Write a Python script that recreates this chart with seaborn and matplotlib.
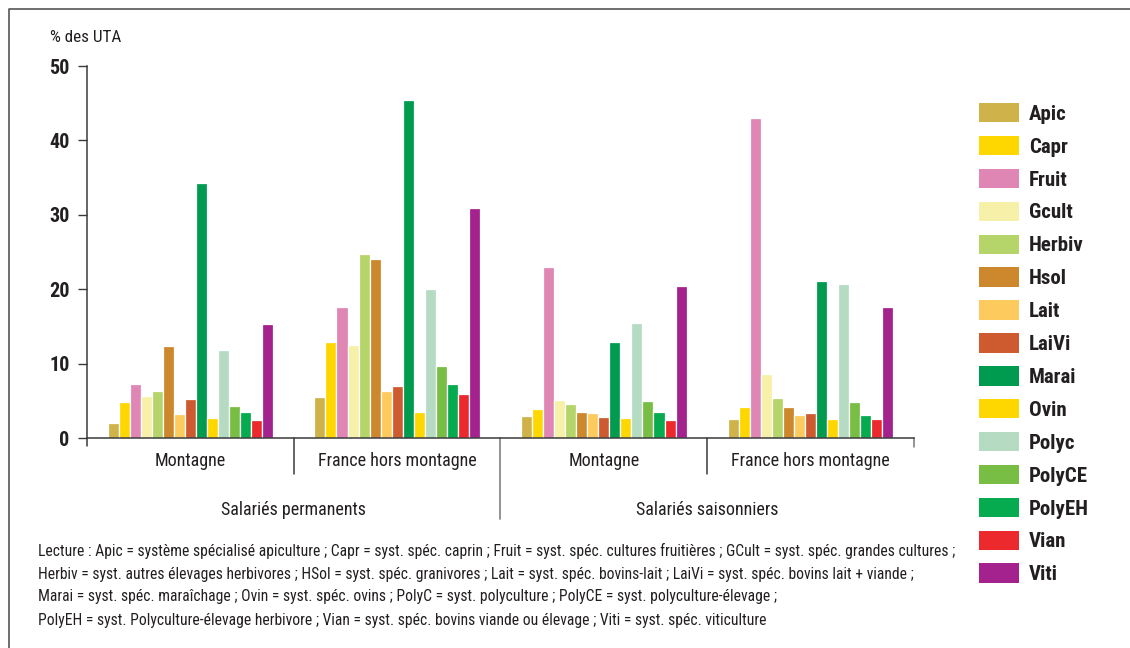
import numpy as np
import pandas as pd
import matplotlib
matplotlib.use("Agg")
import matplotlib.pyplot as plt
from matplotlib.patches import Patch
from matplotlib.lines import Line2D
from matplotlib import font_manager
import seaborn as sns

# Systèmes de production (ordre de la légende)
systemes = ["Apic", "Capr", "Fruit", "Gcult", "Herbiv", "Hsol", "Lait", "LaiVi",
            "Marai", "Ovin", "Polyc", "PolyCE", "PolyEH", "Vian", "Viti"]
couleurs = ["#CFB34A", "#FFD700", "#E086B5", "#F6F0A8", "#B5D46A", "#CD882D",
            "#FDCB5D", "#CD5B2F", "#009B4E", "#FFD700", "#B5DCC3", "#78BE45",
            "#06AB4F", "#EC2A2E", "#A3228E"]

zones = ["Montagne", "France hors montagne"]
statuts = ["Salariés permanents", "Salariés saisonniers"]

# Part des UTA salariées (%)
permanents_montagne = [2.0, 4.8, 7.3, 5.6, 6.3, 12.4, 3.2, 5.2, 34.3, 2.7, 11.8, 4.3, 3.5, 2.4, 15.3]
permanents_hors_montagne = [5.5, 12.9, 17.6, 12.5, 24.7, 24.1, 6.3, 7.0, 45.4, 3.5, 20.0, 9.7, 7.3, 5.9, 30.9]
saisonniers_montagne = [3.0, 3.9, 23.0, 5.1, 4.6, 3.5, 3.4, 2.8, 12.9, 2.7, 15.5, 5.0, 3.5, 2.4, 20.4]
saisonniers_hors_montagne = [2.5, 4.1, 43.0, 8.6, 5.4, 4.1, 3.1, 3.4, 21.1, 2.5, 20.7, 4.8, 3.1, 2.6, 17.6]

series = {
    (statuts[0], zones[0]): permanents_montagne,
    (statuts[0], zones[1]): permanents_hors_montagne,
    (statuts[1], zones[0]): saisonniers_montagne,
    (statuts[1], zones[1]): saisonniers_hors_montagne,
}

lignes = []
for (statut, zone), valeurs in series.items():
    for s, v in zip(systemes, valeurs):
        lignes.append({"groupe": f"{statut} / {zone}", "systeme": s, "valeur": v})
df = pd.DataFrame(lignes)
ordre = [f"{st} / {z}" for st in statuts for z in zones]

lecture = [
    "Lecture : Apic = système spécialisé apiculture ; Capr = syst. spéc. caprin ; "
    "Fruit = syst. spéc. cultures fruitières ; GCult = syst. spéc. grandes cultures ;",
    "Herbiv = syst. autres élevages herbivores ; HSol = syst. spéc. granivores ; "
    "Lait = syst. spéc. bovins-lait ; LaiVi = syst. spéc. bovins lait + viande ;",
    "Marai = syst. spéc. maraîchage ; Ovin = syst. spéc. ovins ; PolyC = syst. polyculture ; "
    "PolyCE = syst. polyculture-élevage ;",
    "PolyEH = syst. Polyculture-élevage herbivore ; Vian = syst. spéc. bovins viande ou élevage ; "
    "Viti = syst. spéc. viticulture",
]

sns.set_theme(style="white")
# Police étroite si disponible, sinon une sans-serif classique
candidats = ["Roboto Condensed", "DejaVu Sans Condensed", "Liberation Sans Narrow",
             "Open Sans Condensed", "Liberation Sans", "DejaVu Sans"]
installees = {f.name for f in font_manager.fontManager.ttflist}
police = [f for f in candidats if f in installees] or ["DejaVu Sans"]
plt.rcParams["font.family"] = police
encre = "#231F20"
trait = "#3A3A3A"

W, H = 1130, 648
fig = plt.figure(figsize=(W / 100, H / 100), dpi=100)
ax = fig.add_axes([87 / W, 1 - 438 / H, (914 - 87) / W, (438 - 66) / H])
renderer = fig.canvas.get_renderer()


def taille_pour_largeur(texte, largeur_px, taille_max, **kw):
    """Plus grande taille de police (pt) pour que le texte tienne dans largeur_px."""
    t = fig.text(0, 0, texte, fontsize=taille_max, **kw)
    w = t.get_window_extent(renderer).width
    t.remove()
    return min(taille_max, taille_max * largeur_px / w)


palette = dict(zip(systemes, couleurs))
sns.barplot(data=df, x="groupe", y="valeur", hue="systeme", order=ordre,
            hue_order=systemes, palette=palette, saturation=1, width=0.8,
            errorbar=None, edgecolor="white", linewidth=0.9, legend=False, ax=ax)

fs_axe = taille_pour_largeur("France hors montagne", 160, 15)

ax.set_xlim(-0.5, 3.5)
ax.set_ylim(0, 50)
ax.set_yticks(range(0, 51, 10))
ax.set_xticks(range(4))
ax.set_xticklabels(zones * 2)
ax.set_xlabel("")
ax.set_ylabel("")
for side in ("top", "right"):
    ax.spines[side].set_visible(False)
for side in ("left", "bottom"):
    ax.spines[side].set_color(trait)
    ax.spines[side].set_linewidth(1.1)
ax.tick_params(axis="y", which="major", left=True, length=6.5, width=1, color=trait,
               pad=6, labelsize=14.5)
ax.tick_params(axis="x", which="major", bottom=False, length=0, pad=10,
               labelsize=fs_axe)
for lab in ax.get_yticklabels():
    lab.set_color(encre)
    lab.set_fontweight("bold")
for lab in ax.get_xticklabels():
    lab.set_color(encre)

# Séparateurs de groupes sous l'axe
bt = ax.get_xaxis_transform()
px = 1 / (438 - 66)
ax.plot([-0.5, -0.5], [0, -8 * px], color=trait, lw=1.1, transform=bt, clip_on=False)
ax.plot([3.5, 3.5], [0, -9 * px], color="#777777", lw=1.1, transform=bt, clip_on=False)
for xs in (0.5, 2.5):
    ax.plot([xs, xs], [0, -36 * px], color=trait, lw=1.1, transform=bt, clip_on=False)
ax.plot([1.5, 1.5], [0, -81 * px], color="#8A8A8A", lw=1.3, transform=bt, clip_on=False)

for i, st in enumerate(statuts):
    ax.text(2 * i + 0.5, -72 * px, st, transform=bt, ha="center", va="center",
            fontsize=fs_axe, color=encre)

fs_titre = taille_pour_largeur("% des UTA", 72, 14)
fig.text(50 / W, 1 - 37 / H, "% des UTA", ha="left", va="center",
         fontsize=fs_titre, color=encre)

# Légende
poignees = [Patch(facecolor=c, edgecolor="none") for c in couleurs]
fs_leg = taille_pour_largeur("PolyEH", 62, 15, fontweight="bold")
em = fs_leg * 100 / 72
leg = fig.legend(poignees, systemes, loc="upper left",
                 bbox_to_anchor=(979 / W, 1 - 103 / H), frameon=False,
                 fontsize=fs_leg, handlelength=40 / em, handleheight=22 / em,
                 handletextpad=10 / em, labelspacing=0.58,
                 borderpad=0, borderaxespad=0)
for t in leg.get_texts():
    t.set_fontweight("bold")
    t.set_color(encre)

# Note de lecture
fs_note = taille_pour_largeur(lecture[0], 915, 11.5)
for k, ligne in enumerate(lecture):
    fig.text(38 / W, 1 - (551 + 23 * k) / H, ligne, ha="left", va="center",
             fontsize=fs_note, color=encre)

# Cadre
fig.add_artist(Line2D([9 / W, 9 / W, 1.0], [0.0, 1 - 9 / H, 1 - 9 / H],
                      transform=fig.transFigure, color="#555555", lw=1.2))

fig.savefig("out.png", dpi=100, facecolor="white")
